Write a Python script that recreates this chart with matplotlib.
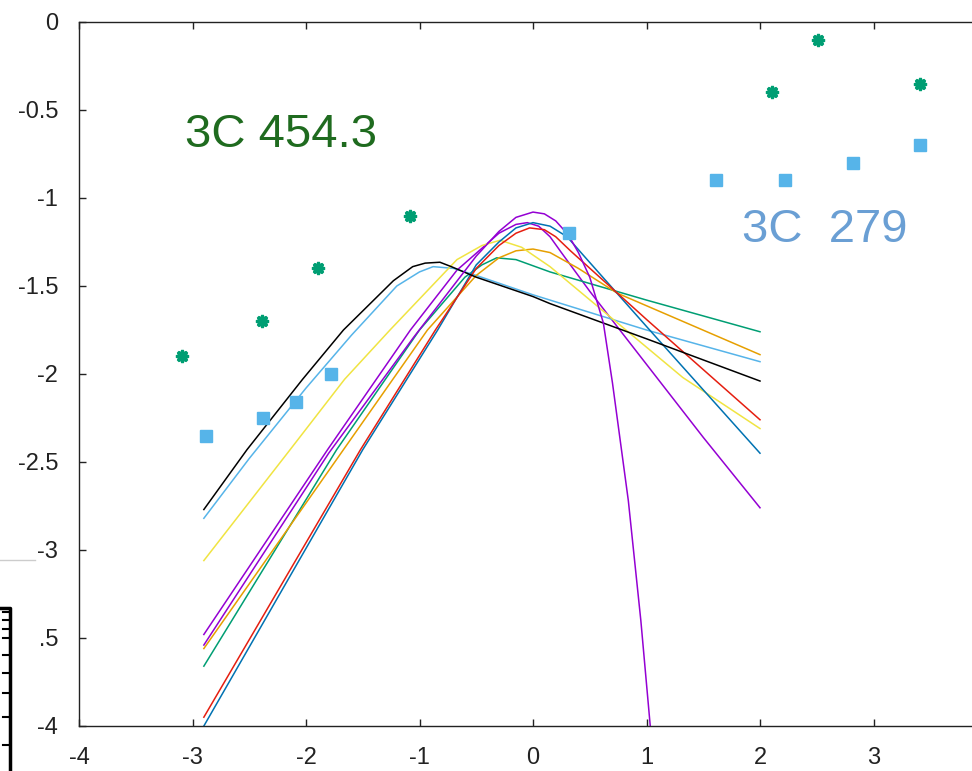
import matplotlib
matplotlib.use("Agg")
import matplotlib.pyplot as plt
from matplotlib.patches import Rectangle
from matplotlib.lines import Line2D

plt.rcParams['font.family'] = ['Liberation Sans', 'DejaVu Sans']
plt.rcParams['axes.unicode_minus'] = False

# observed points (log scale)
green_x = [-3.09, -2.39, -1.89, -1.08, 2.11, 2.51, 3.41]
green_y = [-1.90, -1.70, -1.40, -1.10, -0.40, -0.10, -0.35]

blue_x = [-2.88, -2.38, -2.09, -1.78, 0.32, 1.61, 2.22, 2.82, 3.41]
blue_y = [-2.35, -2.25, -2.16, -2.00, -1.20, -0.90, -0.90, -0.80, -0.70]

# model curves
purple1_x = [-2.9, -1.81, -1.08, -0.67, -0.44, -0.3, -0.15, -0.05, 0.05, 0.15, 0.25, 0.5, 1.03, 1.5, 2.0]
purple1_y = [-3.48, -2.43, -1.75, -1.41, -1.28, -1.20, -1.15, -1.14, -1.16, -1.22, -1.31, -1.53, -1.97, -2.36, -2.76]

purple2_x = [-2.9, -1.8, -1.05, -0.5, -0.3, -0.15, 0.0, 0.1, 0.2, 0.27, 0.32, 0.4, 0.5, 0.62, 0.7, 0.84, 0.95, 1.04]
purple2_y = [-3.54, -2.45, -1.79, -1.33, -1.19, -1.11, -1.08, -1.09, -1.13, -1.18, -1.22, -1.31, -1.45, -1.71, -2.05, -2.72, -3.40, -4.05]

green_line_x = [-2.9, -1.73, -1.0, -0.6, -0.45, -0.32, -0.15, 0.15, 1.0, 2.0]
green_line_y = [-3.66, -2.43, -1.75, -1.45, -1.38, -1.34, -1.35, -1.42, -1.58, -1.76]

skyblue_x = [-2.9, -2.5, -2.0, -1.6, -1.2, -1.0, -0.88, -0.7, -0.5, 0.0, 0.15, 1.0, 2.0]
skyblue_y = [-2.82, -2.48, -2.08, -1.78, -1.50, -1.42, -1.39, -1.40, -1.44, -1.55, -1.58, -1.75, -1.93]

orange_x = [-2.9, -1.67, -0.93, -0.5, -0.3, -0.15, 0.0, 0.15, 0.4, 0.74, 2.0]
orange_y = [-3.56, -2.43, -1.75, -1.44, -1.34, -1.30, -1.29, -1.31, -1.40, -1.54, -1.89]

yellow_x = [-2.9, -2.14, -1.66, -1.26, -0.67, -0.45, -0.29, -0.1, 0.15, 1.32, 2.0]
yellow_y = [-3.06, -2.43, -2.03, -1.75, -1.35, -1.27, -1.24, -1.28, -1.39, -2.02, -2.31]

darkblue_x = [-2.9, -1.5, -0.84, -0.5, -0.3, -0.15, 0.0, 0.15, 0.3, 0.45, 1.0, 2.0]
darkblue_y = [-4.00, -2.43, -1.75, -1.38, -1.25, -1.17, -1.14, -1.16, -1.22, -1.33, -1.73, -2.45]

red_x = [-2.9, -1.52, -0.86, -0.5, -0.3, -0.15, -0.03, 0.1, 0.2, 0.33, 1.0, 2.0]
red_y = [-3.95, -2.43, -1.75, -1.40, -1.27, -1.20, -1.17, -1.18, -1.22, -1.30, -1.69, -2.26]

black_x = [-2.9, -2.52, -2.03, -1.67, -1.23, -1.06, -0.95, -0.82, -0.72, -0.5, 0.0, 0.15, 1.0, 2.0]
black_y = [-2.77, -2.43, -2.03, -1.75, -1.47, -1.39, -1.37, -1.365, -1.39, -1.45, -1.56, -1.60, -1.80, -2.04]

yticks = [0, -0.5, -1, -1.5, -2, -2.5, -3, -3.5, -4]
ylabels = ["0", "-0.5", "-1", "-1.5", "-2", "-2.5", "-3", "-3.5", "-4"]
xticks = [-4, -3, -2, -1, 0, 1, 2, 3]

fig = plt.figure(figsize=(9.72, 7.71), dpi=100)
ax = fig.add_axes([79 / 972, 1 - 726 / 771, 1 - 79 / 972, (726 - 22) / 771])

curves = [
    (purple1_x, purple1_y, '#9400d3'),
    (green_line_x, green_line_y, '#009e73'),
    (skyblue_x, skyblue_y, '#56b4e9'),
    (orange_x, orange_y, '#e69f00'),
    (yellow_x, yellow_y, '#f0e442'),
    (darkblue_x, darkblue_y, '#0072b2'),
    (red_x, red_y, '#e51e10'),
    (black_x, black_y, '#000000'),
    (purple2_x, purple2_y, '#9400d3'),
]
for cx, cy, col in curves:
    ax.plot(cx, cy, color=col, lw=1.1)

ax.plot(green_x, green_y, ls='none', marker=(8, 1, 0), ms=9, color='#009e73',
        mec='#009e73', mew=2)
ax.plot(blue_x, blue_y, ls='none', marker='s', ms=8, color='#56b4e9')

ax.text(-3.07, -0.64, "3C 454.3", color='#1f6b1f', fontsize=34, va='center')
ax.text(1.84, -1.18, "3C  279", color='#6a9fd4', fontsize=34, va='center')

ax.set_xlim(-4, (972 - 533) / 113.5)
ax.set_ylim(-4, 0)
ax.set_xticks(xticks)
ax.set_yticks(yticks)
ax.set_yticklabels(ylabels)
ax.spines['right'].set_visible(False)
for s in ['left', 'top', 'bottom']:
    ax.spines[s].set_linewidth(1.0)
    ax.spines[s].set_color('#222222')
ax.tick_params(direction='in', length=5, width=1, top=True, right=False,
               labelsize=17, pad=15, colors='#222222')

# piece of another figure overlapping the bottom-left corner
fig.add_artist(Rectangle((0, 0), 38 / 972, (771 - 560) / 771, transform=fig.transFigure,
                         facecolor='white', edgecolor='none', zorder=5))
fig.add_artist(Line2D([0, 35 / 972], [(771 - 560) / 771] * 2, transform=fig.transFigure,
                      color='#cccccc', lw=1, zorder=6))
fig.add_artist(Line2D([0, 10 / 972, 10 / 972], [(771 - 608) / 771, (771 - 608) / 771, 0],
                      transform=fig.transFigure, color='black', lw=2.5, zorder=6))
for ty in [612, 620, 629, 638, 655, 673, 693, 717, 745]:
    fig.add_artist(Line2D([3 / 972, 10 / 972], [(771 - ty) / 771] * 2,
                          transform=fig.transFigure, color='black', lw=1.5, zorder=6))

fig.savefig("out.png", dpi=100)
